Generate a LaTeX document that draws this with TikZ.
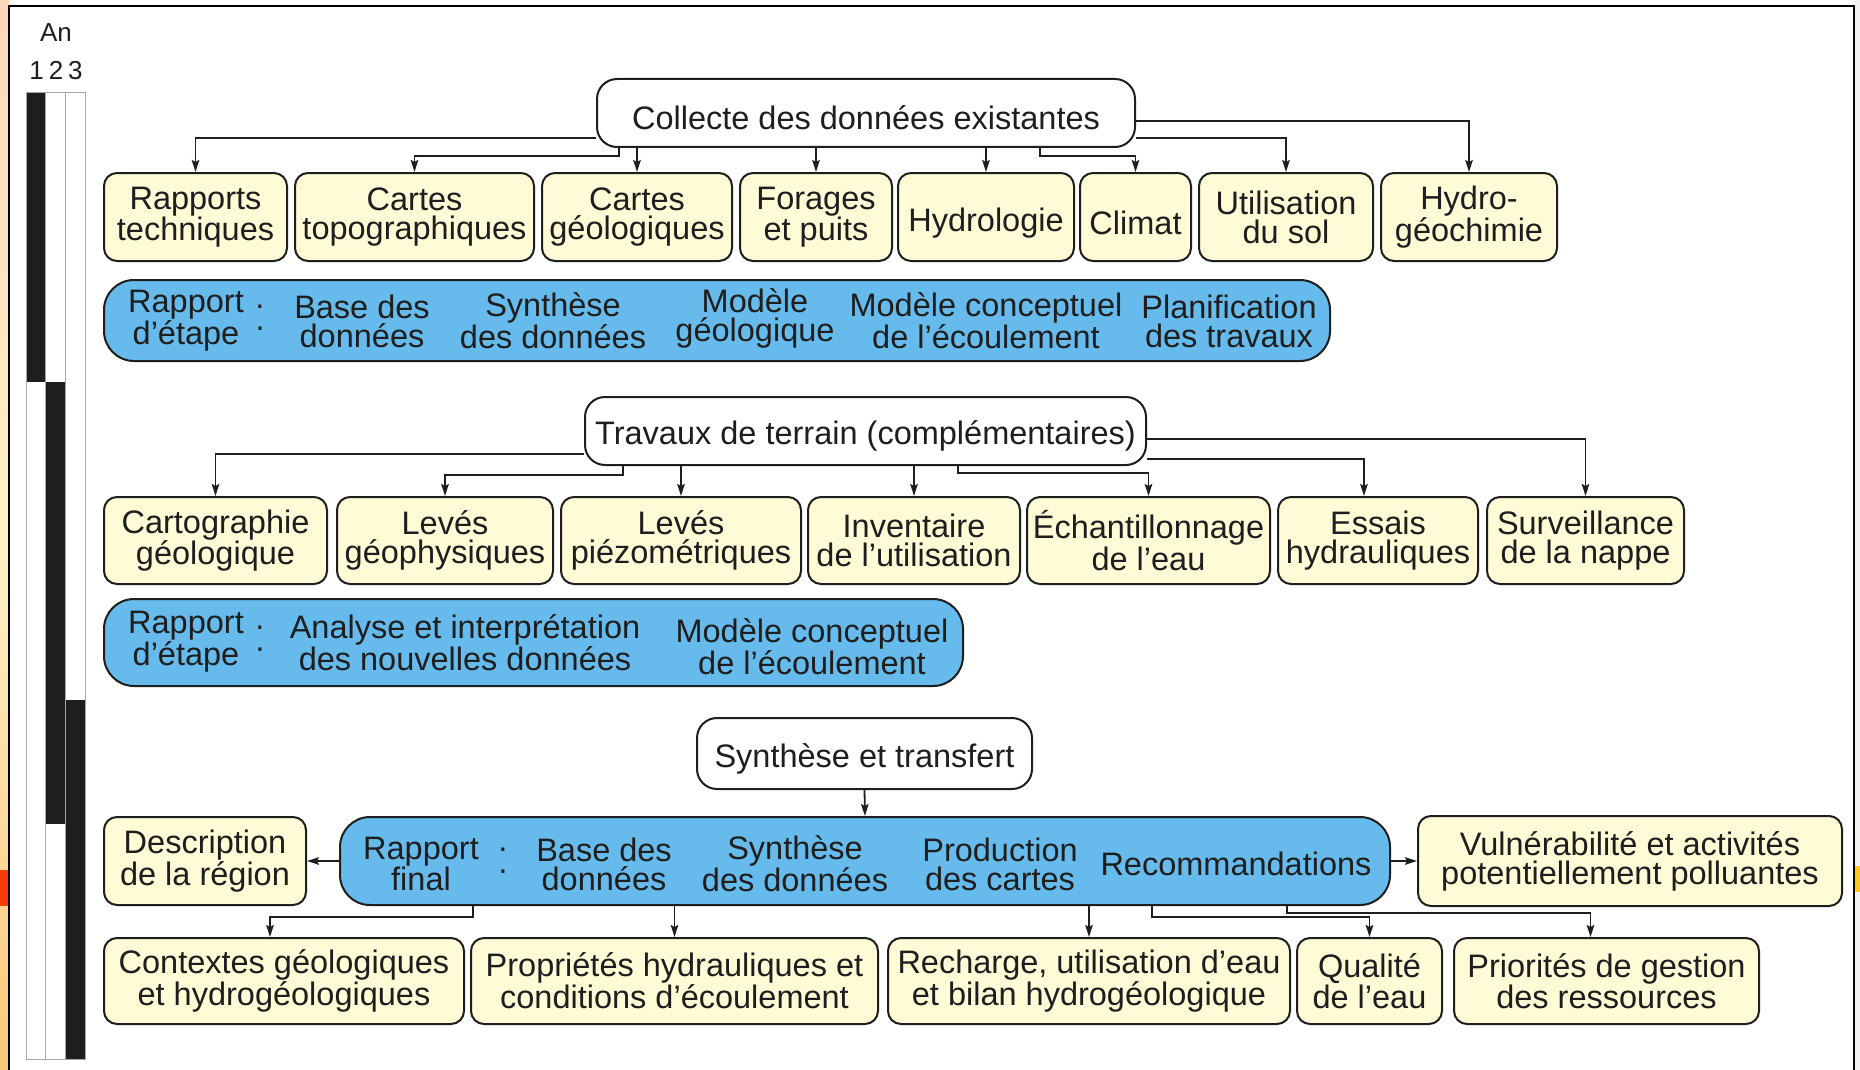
\documentclass[tikz,border=0pt]{standalone}
\usepackage{fontspec}
\setmainfont{Liberation Sans}
\usetikzlibrary{arrows.meta}
\definecolor{yel}{RGB}{255,251,214}
\definecolor{blu}{RGB}{102,187,236}
\definecolor{ink}{RGB}{30,30,30}
\definecolor{bgtop}{RGB}{255,215,185}
\definecolor{bgmid}{RGB}{255,240,200}
\definecolor{bgbot}{RGB}{250,200,120}
\definecolor{redbar}{RGB}{245,60,10}
\definecolor{yelbar}{RGB}{250,200,30}
\begin{document}
\begin{tikzpicture}[x=1pt,y=-1pt,
  font=\fontsize{32.5}{29}\selectfont,
  ybox/.style={draw=ink, line width=2pt, fill=yel, rounded corners=13pt, align=center, inner sep=0pt, text=ink, execute at begin node={\rule{0pt}{36pt}}},
  wbox/.style={draw=ink, line width=2pt, fill=white, rounded corners=20pt, align=center, inner sep=0pt, text=ink, execute at begin node={\rule{0pt}{34pt}}},
  bbox/.style={draw=ink, line width=2pt, fill=blu, rounded corners=30pt, inner sep=0pt},
  btxt/.style={align=center, inner sep=0pt, text=ink},
  arr/.style={draw=ink, line width=1.8pt, -{Stealth[length=12pt,width=7.5pt,inset=2pt]}},
  ]
\useasboundingbox (0,0) rectangle (1860,1070);
% page background
\fill[white] (0,0) rectangle (1860,1070);
\shade[top color=bgtop, bottom color=bgbot, middle color=bgmid] (0,0) rectangle (9,1070);
\fill[redbar] (0,870) rectangle (9,906);
\fill[black!5] (1855,0) rectangle (1860,1070);
\fill[yelbar] (1855,866) rectangle (1860,892);
% frame
\draw[black, line width=2.5pt] (9,1075) -- (9,6) -- (1854,6) -- (1854,1075);

% year columns
\node[text=ink, font=\fontsize{26}{28}\selectfont] (an) at (56,33) {An};
\node[text=ink, font=\fontsize{26}{28}\selectfont] (yrs) at (56,71) {1\hspace{5pt}2\hspace{5pt}3};
\fill[ink] (26,92) rectangle (45,382);
\fill[ink] (45,382) rectangle (65,824);
\fill[ink] (65,700) rectangle (85,1059);
\draw[black!35, line width=0.8pt] (26,92) rectangle (85,1059) (45,92) -- (45,1059) (65,92) -- (65,1059);

% ---------- Section 1 ----------
\node[wbox, minimum width=538pt, minimum height=68pt] (c1) at (866,113) {Collecte des données existantes};

\node[ybox, minimum width=183pt, minimum height=88pt] (a1) at (195.5,217) {Rapports\\techniques};
\node[ybox, minimum width=239pt, minimum height=88pt] (a2) at (414.5,217) {Cartes\\topographiques};
\node[ybox, minimum width=190pt, minimum height=88pt] (a3) at (637,217) {Cartes\\géologiques};
\node[ybox, minimum width=152pt, minimum height=88pt] (a4) at (816,217) {Forages\\et puits};
\node[ybox, minimum width=176pt, minimum height=88pt] (a5) at (986,217) {Hydrologie};
\node[ybox, minimum width=111pt, minimum height=88pt] (a6) at (1135.5,217) {Climat};
\node[ybox, minimum width=174pt, minimum height=88pt] (a7) at (1286,217) {Utilisation\\du sol};
\node[ybox, minimum width=176pt, minimum height=88pt] (a8) at (1469,217) {Hydro-\\géochimie};

\draw[arr] ([yshift=-25pt]c1.west) -| (a1.north);
\draw[arr] ([xshift=-247pt]c1.south) -- ++(0,8) -| (a2.north);
\draw[arr] (c1.south -| a3.north) -- (a3.north);
\draw[arr] (c1.south -| a4.north) -- (a4.north);
\draw[arr] (c1.south -| a5.north) -- (a5.north);
\draw[arr] ([xshift=174pt]c1.south) -- ++(0,8) -| (a6.north);
\draw[arr] ([yshift=-25pt]c1.east) -| (a7.north);
\draw[arr] ([yshift=-8pt]c1.east) -| (a8.north);

\node[bbox, minimum width=1226pt, minimum height=81pt] (r1) at (717,320.5) {};
\node[btxt] (t11) at (186,321) {Rapport\\d’étape};
\node[btxt] (t12) at (260,321) {.\\·};
\node[btxt] (t13) at (362,321) {Base des\\données};
\node[btxt] (t14) at (553,321) {Synthèse\\des données};
\node[btxt] (t15) at (755,318) {Modèle\\géologique};
\node[btxt] (t16) at (986,321) {Modèle conceptuel\\de l’écoulement};
\node[btxt] (t17) at (1229,321) {Planification\\des travaux};

% ---------- Section 2 ----------
\node[wbox, minimum width=561pt, minimum height=68pt] (c2) at (865.5,431) {Travaux de terrain (complémentaires)};

\node[ybox, minimum width=223pt, minimum height=87pt] (b1) at (215.5,540.5) {Cartographie\\géologique};
\node[ybox, minimum width=216pt, minimum height=87pt] (b2) at (445,540.5) {Levés\\géophysiques};
\node[ybox, minimum width=240pt, minimum height=87pt] (b3) at (681,540.5) {Levés\\piézométriques};
\node[ybox, minimum width=212pt, minimum height=87pt] (b4) at (914,540.5) {Inventaire\\de l’utilisation};
\node[ybox, minimum width=243pt, minimum height=87pt] (b5) at (1148.5,540.5) {Échantillonnage\\de l’eau};
\node[ybox, minimum width=200pt, minimum height=87pt] (b6) at (1378,540.5) {Essais\\hydrauliques};
\node[ybox, minimum width=197pt, minimum height=87pt] (b7) at (1585.5,540.5) {Surveillance\\de la nappe};

\draw[arr] ([yshift=-23pt]c2.west) -| (b1.north);
\draw[arr] ([xshift=-242.5pt]c2.south) -- ++(0,9) -| (b2.north);
\draw[arr] (c2.south -| b3.north) -- (b3.north);
\draw[arr] (c2.south -| b4.north) -- (b4.north);
\draw[arr] ([xshift=92.5pt]c2.south) -- ++(0,7) -| (b5.north);
\draw[arr] ([yshift=-28pt]c2.east) -| ([xshift=-14pt]b6.north);
\draw[arr] ([yshift=-8pt]c2.east) -| (b7.north);

\node[bbox, minimum width=859pt, minimum height=87pt] (r2) at (533.5,642.5) {};
\node[btxt] (t21) at (186,642) {Rapport\\d’étape};
\node[btxt] (t22) at (260,642) {.\\·};
\node[btxt] (t23) at (465,643) {Analyse et interprétation\\des nouvelles données};
\node[btxt] (t24) at (812,647) {Modèle conceptuel\\de l’écoulement};

% ---------- Section 3 ----------
\node[wbox, minimum width=335pt, minimum height=71pt] (c3) at (864.5,753.5) {Synthèse et transfert};

\node[bbox, minimum width=1050pt, minimum height=88pt] (r3) at (865,861) {};
\node[btxt] (t31) at (421,864) {Rapport\\final};
\node[btxt] (t32) at (503,864) {.\\·};
\node[btxt] (t33) at (604,864) {Base des\\données};
\node[btxt] (t34) at (795,864) {Synthèse\\des données};
\node[btxt] (t35) at (1000,864) {Production\\des cartes};
\node[btxt] (t36) at (1236,864) {Recommandations};

\node[ybox, minimum width=202pt, minimum height=88pt] (d3) at (205,861) {Description\\de la région};
\node[ybox, minimum width=424pt, minimum height=90pt] (v3) at (1630,861) {Vulnérabilité et activités\\potentiellement polluantes};

\draw[arr] (c3.south) -- (r3.north);
\draw[arr] (r3.west) -- (d3.east);
\draw[arr] (r3.east) -- (v3.west);

\node[ybox, minimum width=360pt, minimum height=86pt] (e1) at (284,981) {Contextes géologiques\\et hydrogéologiques};
\node[ybox, minimum width=407pt, minimum height=86pt] (e2) at (674.5,981) {Propriétés hydrauliques et\\conditions d’écoulement};
\node[ybox, minimum width=402pt, minimum height=86pt] (e3) at (1089,981) {Recharge, utilisation d’eau\\et bilan hydrogéologique};
\node[ybox, minimum width=145pt, minimum height=86pt] (e4) at (1369.5,981) {Qualité\\de l’eau};
\node[ybox, minimum width=305pt, minimum height=86pt] (e5) at (1606.5,981) {Priorités de gestion\\des ressources};

\draw[arr] ([xshift=-392pt]r3.south) -- ++(0,11) -| ([xshift=-14pt]e1.north);
\draw[arr] (r3.south -| e2.north) -- (e2.north);
\draw[arr] (r3.south -| e3.north) -- (e3.north);
\draw[arr] ([xshift=287pt]r3.south) -- ++(0,11) -| (e4.north);
\draw[arr] ([xshift=422pt]r3.south) -- ++(0,7) -| ([xshift=-16pt]e5.north);
\end{tikzpicture}
\end{document}
